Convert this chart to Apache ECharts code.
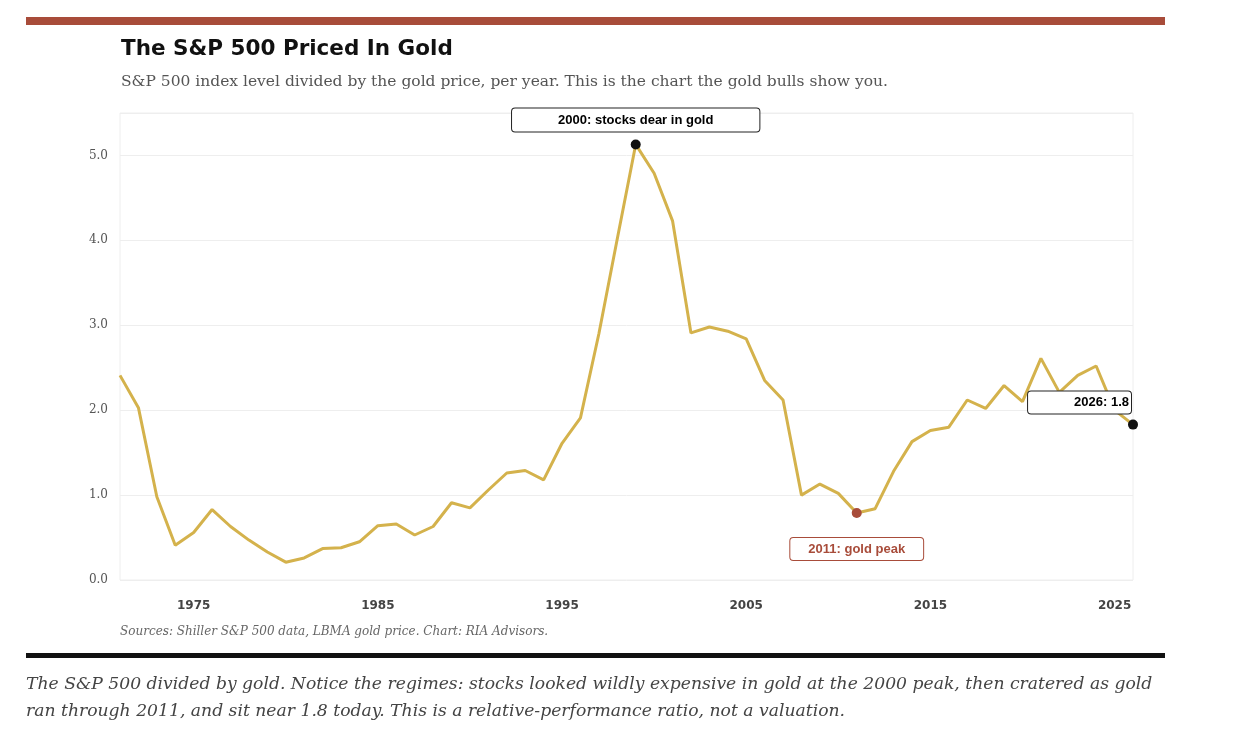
<!DOCTYPE html>
<html><head><meta charset="utf-8">
<script src="https://cdn.jsdelivr.net/npm/echarts@6/dist/echarts.min.js"></script>
<style>body{margin:0;background:#fff}#c{width:1244px;height:738px}</style>
</head><body><div id="c"></div>
<script>
const years = [];
for (let y = 1971; y <= 2026; y++) years.push(String(y));
const ratio = [2.41,2.03,0.98,0.41,0.56,0.83,0.63,0.47,0.33,0.21,0.26,0.37,0.38,0.45,0.64,0.66,0.53,0.63,0.91,0.85,1.06,1.26,1.29,1.18,1.61,1.91,2.90,4.02,5.13,4.79,4.23,2.91,2.98,2.93,2.84,2.35,2.12,1.00,1.13,1.02,0.79,0.84,1.28,1.63,1.76,1.80,2.12,2.02,2.29,2.10,2.61,2.21,2.41,2.52,2.00,1.83];
const peakYear = '1999', goldPeakYear = '2011', lastYear = '2026';
const val = y => ratio[years.indexOf(y)];
const chart = echarts.init(document.getElementById('c'));
chart.setOption({
  animation:false,
  graphic:[
    {type:'rect',shape:{x:26,y:17,width:1139,height:8},style:{fill:'#a84c3a'}},
    {type:'text',left:121,top:38,style:{text:'The S&P 500 Priced In Gold',font:'bold 21.5px "DejaVu Sans", Arial',fill:'#111'}},
    {type:'text',left:121,top:74,style:{text:'S&P 500 index level divided by the gold price, per year. This is the chart the gold bulls show you.',font:'15.5px "DejaVu Serif", serif',fill:'#555'}},
    {type:'text',left:120,top:626,style:{text:'Sources: Shiller S&P 500 data, LBMA gold price. Chart: RIA Advisors.',font:'italic 12px "DejaVu Serif", serif',fill:'#666'}},
    {type:'rect',shape:{x:26,y:653,width:1139,height:5},style:{fill:'#111'}},
    {type:'text',left:26,top:671,style:{text:'The S&P 500 divided by gold. Notice the regimes: stocks looked wildly expensive in gold at the 2000 peak, then cratered as gold\nran through 2011, and sit near 1.8 today. This is a relative-performance ratio, not a valuation.',font:'italic 17.2px "DejaVu Serif", serif',fill:'#444',lineHeight:27}}
  ],
  grid:{left:120,right:111,top:113,bottom:158,show:true,borderColor:'#eee',borderWidth:1},
  xAxis:{type:'category',data:years,boundaryGap:false,
    axisLine:{show:false},axisTick:{show:false},splitLine:{show:false},
    axisLabel:{interval:(i,v)=>Number(v)%10===5,color:'#444',fontSize:12,fontWeight:'bold',fontFamily:'DejaVu Sans',margin:20}},
  yAxis:{type:'value',min:0,max:5.5,interval:1,
    axisLabel:{formatter:v=>v.toFixed(1),color:'#555',fontSize:12,fontFamily:'DejaVu Serif',margin:12,
      showMaxLabel:false},
    splitLine:{lineStyle:{color:'#eee'}},axisLine:{show:false},axisTick:{show:false}},
  series:[
    {type:'line',data:ratio,symbol:'none',lineStyle:{color:'#d4b24c',width:3},z:2},
    {type:'scatter',symbolSize:10,z:5,itemStyle:{opacity:1},data:[
      {value:[peakYear,val(peakYear)],itemStyle:{color:'#111',opacity:1},
        label:{show:true,position:'top',distance:8,formatter:'2000: stocks dear in gold',color:'#000',fontWeight:'bold',fontSize:13,fontFamily:'Liberation Sans',
          backgroundColor:'#fff',borderColor:'#222',borderWidth:1,borderRadius:3,padding:[6,46,4,46]}},
      {value:[goldPeakYear,val(goldPeakYear)],itemStyle:{color:'#a84c3a',opacity:1},
        label:{show:true,position:'bottom',distance:20,formatter:'2011: gold peak',color:'#a84c3a',fontWeight:'bold',fontSize:13,fontFamily:'Liberation Sans',
          backgroundColor:'#fff',borderColor:'#a84c3a',borderWidth:1,borderRadius:3,padding:[5,18,4,18]}},
      {value:[lastYear,val(lastYear)],itemStyle:{color:'#111',opacity:1},
        label:{show:true,position:'left',offset:[8,-22],formatter:'2026: 1.8',color:'#000',fontWeight:'bold',fontSize:13,fontFamily:'Liberation Sans',
          backgroundColor:'#fff',borderColor:'#222',borderWidth:1,borderRadius:3,padding:[5,2,4,46]}}
    ]}
  ]
});
</script></body></html>
